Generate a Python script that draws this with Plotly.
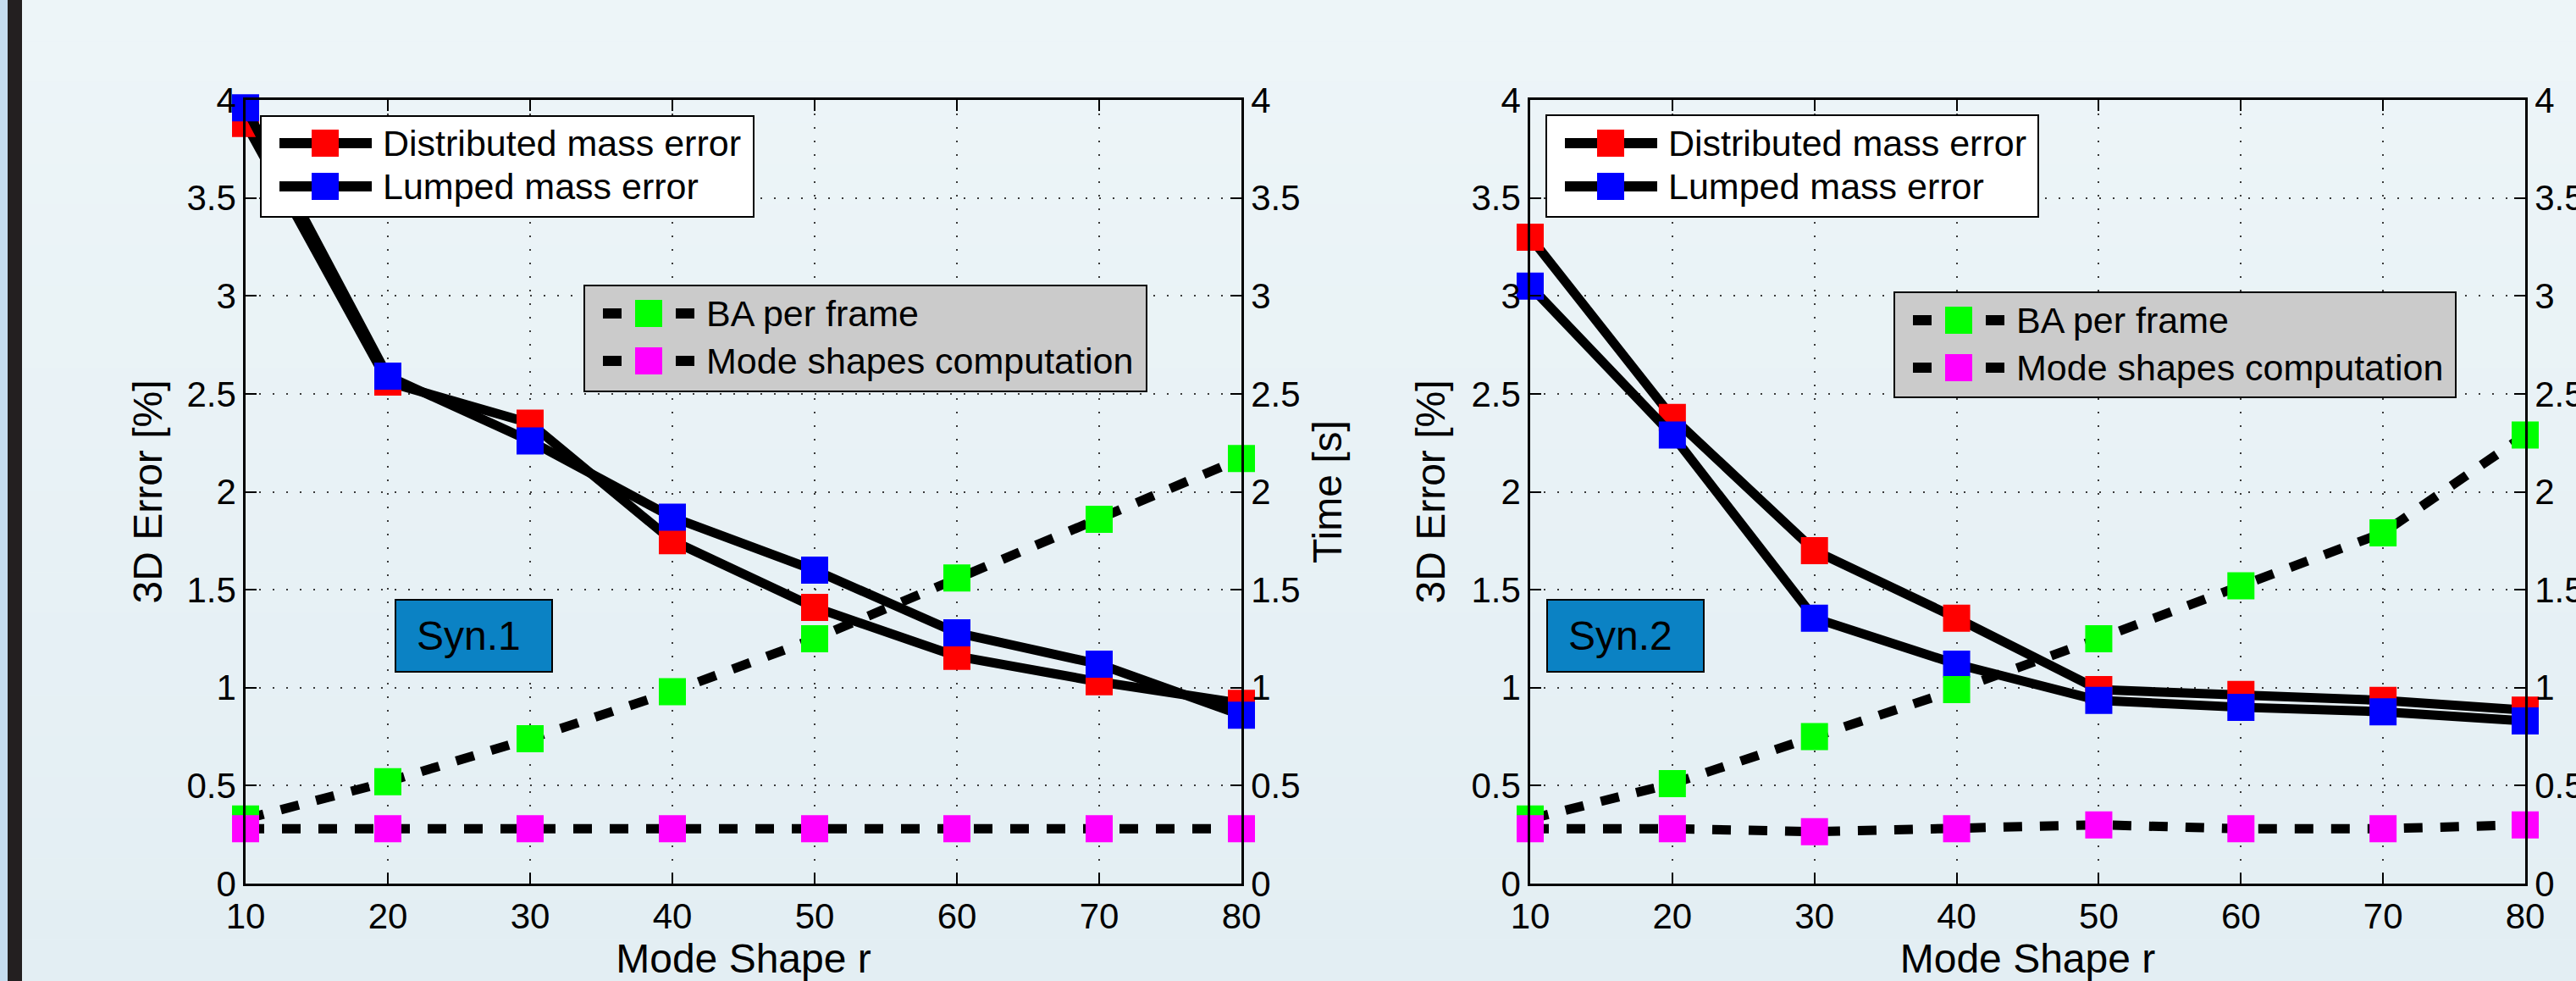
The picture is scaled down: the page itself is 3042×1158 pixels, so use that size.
import plotly.graph_objects as go

# ---------------- data ----------------
mode_shapes = [10, 20, 30, 40, 50, 60, 70, 80]
x_tick_vals = [10, 20, 30, 40, 50, 60, 70, 80]
y_tick_vals = [0, 0.5, 1, 1.5, 2, 2.5, 3, 3.5, 4]

series_names = ["Distributed mass error", "Lumped mass error",
                "BA per frame", "Mode shapes computation"]
panel_labels = ["Syn.1", "Syn.2"]

syn1_distributed = [3.88, 2.56, 2.35, 1.75, 1.41, 1.16, 1.03, 0.92]
syn1_lumped = [3.96, 2.59, 2.26, 1.87, 1.60, 1.28, 1.12, 0.86]
syn1_ba_time = [0.33, 0.52, 0.74, 0.98, 1.25, 1.56, 1.86, 2.17]
syn1_mode_time = [0.28, 0.28, 0.28, 0.28, 0.28, 0.28, 0.28, 0.28]

syn2_distributed = [3.30, 2.38, 1.70, 1.355, 0.99, 0.965, 0.935, 0.885]
syn2_lumped = [3.05, 2.29, 1.355, 1.12, 0.935, 0.90, 0.877, 0.83]
syn2_ba_time = [0.33, 0.51, 0.75, 0.99, 1.25, 1.52, 1.79, 2.29]
syn2_mode_time = [0.28, 0.28, 0.265, 0.28, 0.30, 0.28, 0.28, 0.30]

# ---------------- style ----------------
W, H = 3042, 1158
FONT = "Liberation Sans, Arial, Helvetica, sans-serif"
TICK_SIZE = 42
TITLE_SIZE = 48
LEGEND_SIZE = 43
MARKER_SIZE = 32
LINE_W = 11
DASH = "22px,21px"
colors = ["#ff0000", "#0000ff", "#00ff00", "#ff00ff"]

fig = go.Figure()

panels = [
    dict(x="x", yl="y", yr="y2",
         data=[syn1_distributed, syn1_lumped, syn1_ba_time, syn1_mode_time]),
    dict(x="x2", yl="y3", yr="y4",
         data=[syn2_distributed, syn2_lumped, syn2_ba_time, syn2_mode_time]),
]

for p in panels:
    for i, (name, vals) in enumerate(zip(series_names, p["data"])):
        is_time = i >= 2
        fig.add_trace(go.Scatter(
            x=mode_shapes, y=vals, name=name,
            mode="lines+markers", showlegend=False,
            xaxis=p["x"], yaxis=p["yr"] if is_time else p["yl"],
            line=dict(color="black", width=LINE_W, dash=DASH if is_time else "solid"),
            marker=dict(symbol="square", size=MARKER_SIZE, color=colors[i],
                        line=dict(width=0)),
            cliponaxis=False,
        ))

# ---------------- axes ----------------
xdoms = [[290 / W, 1466 / W], [1807 / W, 2982 / W]]
ydom = [1 - 1043 / H, 1 - 118 / H]

grid_common = dict(showgrid=True, gridcolor="#3a3a3a", gridwidth=1.5, griddash="2px,14px")
axis_common = dict(showline=True, linecolor="black", linewidth=2.5,
                   ticks="inside", ticklen=13, tickwidth=2, tickcolor="black",
                   tickfont=dict(family=FONT, size=TICK_SIZE, color="black"),
                   zeroline=False, automargin=False)

layout = dict(
    width=W, height=H, autosize=False,
    margin=dict(l=0, r=0, t=0, b=0),
    paper_bgcolor="#e8f2f5", plot_bgcolor="rgba(0,0,0,0)",
    font=dict(family=FONT, color="black"),
    showlegend=False,
)

for k, (xa, ya_l, ya_r) in enumerate([("xaxis", "yaxis", "yaxis2"), ("xaxis2", "yaxis3", "yaxis4")]):
    yl_id = "y" if k == 0 else "y3"
    x_id = "x" if k == 0 else "x2"
    layout[xa] = dict(domain=xdoms[k], range=[10, 80], anchor=yl_id,
                      tickvals=x_tick_vals, mirror="ticks",
                      title=dict(text="Mode Shape r", font=dict(family=FONT, size=TITLE_SIZE),
                                 standoff=4),
                      **grid_common, **axis_common)
    layout[ya_l] = dict(domain=ydom, range=[0, 4], anchor=x_id, tickvals=y_tick_vals,
                        title=dict(text="3D Error [%]", font=dict(family=FONT, size=TITLE_SIZE),
                                   standoff=14 if k == 0 else 16),
                        **grid_common, **axis_common)
    right = dict(range=[0, 4], overlaying=yl_id, anchor=x_id, side="right",
                 tickvals=y_tick_vals, showgrid=False, **axis_common)
    if k == 0:
        right["title"] = dict(text="Time [s]", font=dict(family=FONT, size=TITLE_SIZE),
                              standoff=16)
    layout[ya_r] = right

# ---------------- helpers (pixel -> paper) ----------------
def px(x):
    return x / W


def py(y):
    return 1 - y / H


shapes = []
annots = []

# ---------------- background (subtle vertical gradient + left strip) ----------------
n = 24
top = (237, 245, 248)
bot = (227, 238, 243)
for i in range(n):
    t = i / (n - 1)
    c = tuple(round(top[j] + (bot[j] - top[j]) * t) for j in range(3))
    shapes.append(dict(type="rect", xref="paper", yref="paper", layer="below",
                       x0=0, x1=1, y0=1 - (i + 1) / n, y1=1 - i / n,
                       fillcolor="rgb(%d,%d,%d)" % c, line=dict(width=0)))
shapes.append(dict(type="rect", xref="paper", yref="paper", layer="below",
                   x0=0, x1=px(9), y0=0, y1=1, fillcolor="#c5dcef", line=dict(width=0)))
shapes.append(dict(type="rect", xref="paper", yref="paper", layer="below",
                   x0=px(9), x1=px(26), y0=0, y1=1, fillcolor="#231f20", line=dict(width=0)))

# ---------------- legends (MATLAB style boxes) ----------------
legend_boxes = [
    dict(box=(308, 137, 890, 256), rows=(169, 220), items=(0, 1), bg="white"),
    dict(box=(690, 337, 1354, 462), rows=(370, 426), items=(2, 3), bg="#cbcbcb"),
    dict(box=(1826, 136, 2407, 256), rows=(169, 220), items=(0, 1), bg="white"),
    dict(box=(2237, 345, 2900, 469), rows=(378, 434), items=(2, 3), bg="#cbcbcb"),
]
for lb in legend_boxes:
    x0, y0, x1, y1 = lb["box"]
    shapes.append(dict(type="rect", xref="paper", yref="paper", layer="above",
                       x0=px(x0), x1=px(x1), y0=py(y1), y1=py(y0),
                       fillcolor=lb["bg"], line=dict(color="black", width=2)))
    for row, it in zip(lb["rows"], lb["items"]):
        dash = DASH if it >= 2 else "solid"
        shapes.append(dict(type="line", xref="paper", yref="paper", layer="above",
                           x0=px(x0 + 22), x1=px(x0 + 131), y0=py(row), y1=py(row),
                           line=dict(color="black", width=12, dash=dash)))
        shapes.append(dict(type="rect", xref="paper", yref="paper", layer="above",
                           x0=px(x0 + 60), x1=px(x0 + 92), y0=py(row + 16), y1=py(row - 16),
                           fillcolor=colors[it], line=dict(width=0)))
        annots.append(dict(text=series_names[it], xref="paper", yref="paper",
                           x=px(x0 + 143), y=py(row), xanchor="left", yanchor="middle",
                           showarrow=False, borderpad=0,
                           font=dict(family=FONT, size=LEGEND_SIZE, color="black")))

# ---------------- panel labels ----------------
for lab, xr, yr, xc in [(panel_labels[0], "x", "y", 26.04), (panel_labels[1], "x2", "y3", 16.73)]:
    annots.append(dict(text="\u2002" + lab, x=xc, y=1.265, xref=xr, yref=yr,
                       showarrow=False, width=183, height=83, align="left",
                       bgcolor="#0b82c4", bordercolor="black", borderwidth=2, borderpad=0,
                       font=dict(family=FONT, size=48, color="black")))

layout["shapes"] = shapes
layout["annotations"] = annots

fig.update_layout(**layout)
fig.write_html("out.html", config={"displayModeBar": False},
               post_script="document.body.style.margin='0px';")
